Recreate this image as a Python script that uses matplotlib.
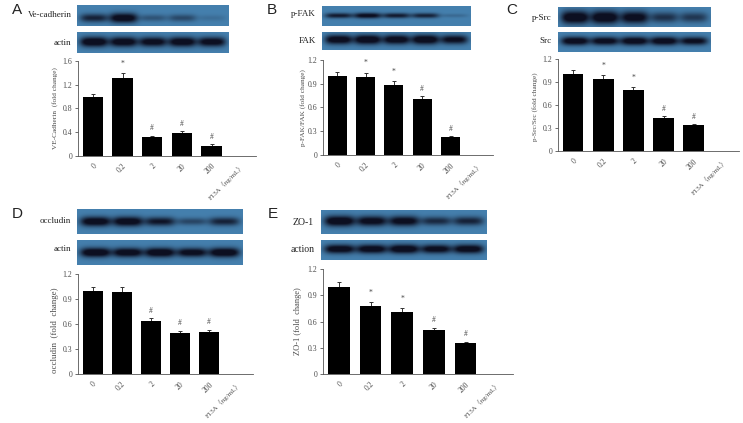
import numpy as np
import matplotlib
matplotlib.use("Agg")
import matplotlib.pyplot as plt

W, H = 743, 423
SERIF = ["Liberation Serif", "DejaVu Serif"]
TXT = "#4a4a4a"

doses = ["0", "0.2", "2", "20", "200", "F13A\uff08ng/mL\uff09"]

a_vals = [1.00, 1.32, 0.32, 0.39, 0.17]
a_errs = [0.05, 0.07, 0.02, 0.02, 0.02]
a_marks = ["", "*", "#", "#", "#"]
a_ticks = [0, 0.4, 0.8, 1.2, 1.6]
a_ticklabels = ["0", "0.4", "0.8", "1.2", "1.6"]

b_vals = [1.00, 0.99, 0.89, 0.71, 0.23]
b_errs = [0.05, 0.05, 0.04, 0.03, 0.01]
b_marks = ["", "*", "*", "#", "#"]

c_vals = [1.00, 0.94, 0.79, 0.43, 0.34]
c_errs = [0.05, 0.05, 0.04, 0.02, 0.01]
c_marks = ["", "*", "*", "#", "#"]

d_vals = [1.00, 0.99, 0.64, 0.49, 0.50]
d_errs = [0.05, 0.05, 0.03, 0.03, 0.03]
d_marks = ["", "", "#", "#", "#"]

e_vals = [1.00, 0.78, 0.71, 0.50, 0.36]
e_errs = [0.05, 0.04, 0.04, 0.03, 0.01]
e_marks = ["", "*", "*", "#", "#"]

r_ticks = [0, 0.3, 0.6, 0.9, 1.2]
r_ticklabels = ["0", "0.3", "0.6", "0.9", "1.2"]

# band strength per lane, read from the blots
a_top = [0.65, 0.95, 0.30, 0.38, 0.12]
a_low = [1.00, 0.95, 0.90, 0.95, 0.90]
b_top = [0.70, 0.85, 0.70, 0.65, 0.15]
b_low = [0.95, 1.00, 0.95, 1.00, 0.85]
c_top = [1.00, 1.00, 0.90, 0.55, 0.50]
c_low = [0.95, 0.90, 0.95, 0.95, 0.85]
d_top = [0.95, 0.95, 0.75, 0.40, 0.65]
d_low = [1.00, 0.95, 1.00, 0.90, 1.00]
e_top = [1.00, 0.90, 0.90, 0.60, 0.65]
e_low = [0.95, 0.95, 1.00, 0.90, 0.95]

fig = plt.figure(figsize=(W / 100, H / 100), dpi=100, facecolor="white")


def px_axes(x0, y0, x1, y1):
    return fig.add_axes([x0 / W, 1 - y1 / H, (x1 - x0) / W, (y1 - y0) / H])


def blot(x0, y0, x1, y1, bands, thick, ypos=0.5, halfw=0.092):
    ax = px_axes(x0, y0, x1, y1)
    nx, ny = int(x1 - x0) * 3, int(y1 - y0) * 3
    xx, yy = np.meshgrid(np.linspace(0, 1, nx), np.linspace(0, 1, ny))
    dens = np.zeros_like(xx)
    for i, s in enumerate(bands):
        cx = (i + 0.5) / 5 + (0.5 - (i + 0.5) / 5) * 0.03
        across = np.exp(-(np.abs(xx - cx) / halfw) ** 4)
        along = np.exp(-((yy - ypos) / (thick * (0.55 + 0.45 * s))) ** 2)
        dens += s * across * along
    dens = np.clip(dens * 1.3, 0, 1)[..., None]
    base = np.array([0.27, 0.50, 0.68])
    dark = np.array([0.05, 0.06, 0.13])
    ax.imshow(base * (1 - dens) + dark * dens, aspect="auto", interpolation="bilinear")
    ax.axis("off")


def chart(x0, ytop, x1, y0, vals, errs, marks, ylim, ticks, ticklabels, ylabel,
          label_xy, label_fs=5.2, fs=5.6):
    ax = px_axes(x0, ytop, x1, y0)
    pos = np.arange(len(vals)) + 0.5
    ax.bar(pos, vals, width=0.68, color="black", zorder=2)
    ax.errorbar(pos, vals, yerr=[np.zeros(len(errs)), errs], fmt="none", ecolor="#333333",
                elinewidth=0.7, capsize=1.4, capthick=0.7, zorder=1)
    for p, v, e, m in zip(pos, vals, errs, marks):
        if m:
            off = 4 if m == "*" else 2.5
            ax.annotate(m, (p, v + e), xytext=(0, off), textcoords="offset points", ha="center",
                        va="bottom", fontsize=5.5, color=TXT, family=SERIF)
    ax.set_xlim(0, 6)
    ax.set_ylim(0, ylim)
    ax.set_yticks(ticks)
    ax.set_yticklabels(ticklabels, fontsize=fs, color=TXT, family=SERIF)
    ax.set_xticks(np.arange(6) + 0.5)
    ax.set_xticklabels(doses, fontsize=fs, color=TXT, rotation=45, ha="right", va="top",
                       rotation_mode="anchor",
                       family=SERIF + ["Noto Sans CJK SC"])
    ax.get_xticklabels()[-1].set_fontsize(5.0)
    ax.tick_params(axis="x", length=0, pad=4.5)
    ax.tick_params(axis="y", length=2, width=0.6, color="#555555", pad=2)
    for s in ("top", "right"):
        ax.spines[s].set_visible(False)
    for s in ("left", "bottom"):
        ax.spines[s].set_linewidth(0.6)
        ax.spines[s].set_color("#555555")
    ax.set_ylabel(ylabel, fontsize=label_fs, color=TXT, family=SERIF, va="center")
    ax.yaxis.set_label_coords(label_xy[0] / W, 1 - label_xy[1] / H, transform=fig.transFigure)
    ax.patch.set_alpha(0)
    return ax


def blot_label(x, y, s, size=6.5):
    fig.text(x / W, 1 - y / H, s, ha="right", va="center", fontsize=size, color="#222222",
             family=SERIF)


def letter(x, y, s):
    fig.text(x / W, 1 - y / H, s, ha="left", va="center", fontsize=11, color="#222222",
             family=["Liberation Sans", "DejaVu Sans"])


# Panel A
blot(77, 5, 229, 26, a_top, 0.24, 0.62)
blot(77, 32, 229, 53, a_low, 0.24, 0.47)
chart(78, 61, 256, 155.7, a_vals, a_errs, a_marks, 1.6, a_ticks, a_ticklabels,
      "VE-Cadherin  (fold change)", (55, 108))
blot_label(72, 15, "Ve-cadherin")
blot_label(71, 43, "actin")
letter(12, 10, "A")

# Panel B
blot(322, 6, 471, 26, b_top, 0.15, 0.48)
blot(322, 32, 471, 50, b_low, 0.27, 0.42)
chart(323, 60, 493, 155, b_vals, b_errs, b_marks, 1.2, r_ticks, r_ticklabels,
      "p-FAK/FAK (fold change)", (303, 108))
blot_label(316, 14, "p-FAK")
blot_label(316, 41, "FAK")
letter(267, 10, "B")

# Panel C
blot(558, 7, 711, 27, c_top, 0.33, 0.52)
blot(558, 32, 711, 52, c_low, 0.22, 0.45)
chart(558, 59, 739, 151, c_vals, c_errs, c_marks, 1.2, r_ticks, r_ticklabels,
      "p-Src/Src (fold change)", (535, 107))
blot_label(552, 18, "p-Src")
blot_label(552, 41, "Src")
letter(506, 10, "C")

# Panel D
blot(77, 209, 243, 234, d_top, 0.20, 0.50)
blot(77, 240, 243, 265, d_low, 0.19, 0.50)
chart(78, 274, 253, 374, d_vals, d_errs, d_marks, 1.2, r_ticks, r_ticklabels,
      "occludin  (fold  change)", (55, 330), label_fs=6.4)
blot_label(71, 221, "occludin")
blot_label(71, 249, "actin")
letter(12, 214, "D")

# Panel E
blot(321, 210, 486, 234, e_top, 0.22, 0.46)
blot(321, 240, 486, 260, e_low, 0.23, 0.45)
chart(323, 269, 513, 374, e_vals, e_errs, e_marks, 1.2, r_ticks, r_ticklabels,
      "ZO-1 (fold  change)", (298, 321), label_fs=6.0)
blot_label(314, 222, "ZO-1", 7)
blot_label(315, 249, "action", 7)
letter(268, 214, "E")

fig.savefig("out.png", dpi=100, facecolor="white")
